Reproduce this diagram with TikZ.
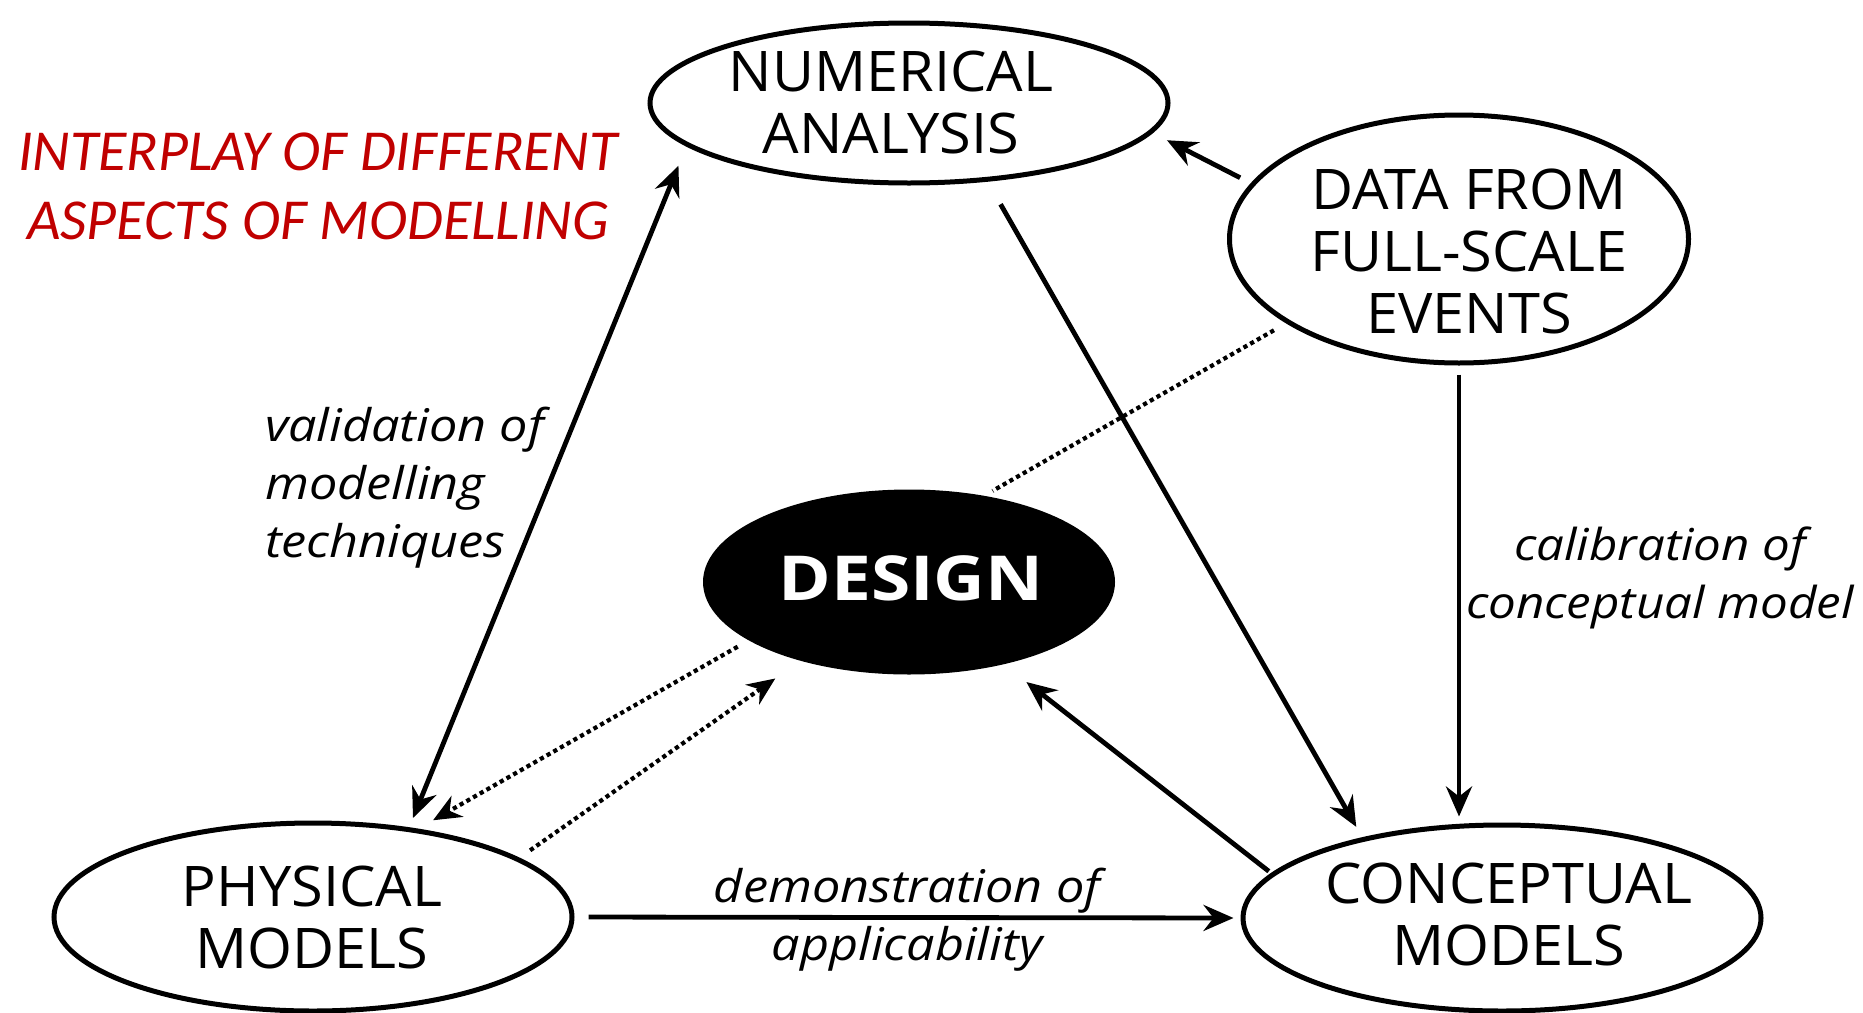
\documentclass[tikz,border=0pt]{standalone}
\usepackage{fontspec}
\setmainfont{Open Sans}
\newfontfamily\titlefont{Carlito}
\newfontfamily\nodefont[FakeStretch=1.03]{Open Sans}
\newfontfamily\desfont[FakeStretch=1.15]{Open Sans}
\newfontfamily\lblfont[FakeStretch=1.12]{Open Sans}
\usetikzlibrary{shapes.geometric,arrows.meta}
\definecolor{titlered}{HTML}{C00000}
\tikzset{
  ell/.style={ellipse, draw, line width=5pt, inner sep=0pt},
  txt/.style={align=center, inner sep=0pt, font=\nodefont\fontsize{56}{62}\selectfont},
  conn/.style={line width=4.8pt, -{Stealth[length=30pt,width=26pt,inset=10pt]}},
  biconn/.style={line width=4.8pt, {Stealth[length=30pt,width=26pt,inset=10pt]}-{Stealth[length=30pt,width=26pt,inset=10pt]}},
  dotline/.style={line width=4.2pt, dash pattern=on 4.2pt off 3.5pt},
  dotconn/.style={dotline, -{Stealth[length=28pt,width=24pt,inset=9pt]}},
  lbl/.style={inner sep=0pt, font=\lblfont\itshape\fontsize{45}{58}\selectfont}
}
\begin{document}
\begin{tikzpicture}[x=1pt,y=-1pt]
\useasboundingbox (0,0) rectangle (1863,1012);
% ellipses
\node[ell, minimum width=518pt, minimum height=160pt] (num) at (909,103) {};
\node[txt] (numt) at (891,102) {NUMERICAL\\ANALYSIS};
\node[ell, minimum width=459pt, minimum height=248pt] (data) at (1459,239) {};
\node[txt] (datat) at (1469,251) {DATA FROM\\FULL-SCALE\\EVENTS};
\node[ell, fill=black, minimum width=407pt, minimum height=180pt] (des) at (909,582) {};
\node[txt, text=white, font=\desfont\bfseries\fontsize{62}{62}\selectfont] (dest) at (911,578) {DESIGN};
\node[ell, minimum width=518pt, minimum height=188pt] (phys) at (313,917) {};
\node[txt] (physt) at (312,917) {PHYSICAL\\MODELS};
\node[ell, minimum width=518pt, minimum height=186pt] (conc) at (1502,918) {};
\node[txt] (conct) at (1509,914) {CONCEPTUAL\\MODELS};
% labels
\node[text=titlered, align=center, inner sep=0pt, font=\titlefont\itshape\fontsize{58}{69}\selectfont] (title) at (318,186) {INTERPLAY OF DIFFERENT\\ASPECTS OF MODELLING};
\node[lbl, anchor=west, align=left] (val) at (265,488) {validation of\\modelling\\techniques};
\node[lbl, align=center, font=\lblfont\itshape\fontsize{44}{58}\selectfont] (cal) at (1660,578) {calibration of\\conceptual model};
\node[lbl, align=center] (dem) at (907,920) {demonstration of\\applicability};
% connectors
\draw[biconn, shorten <=21pt, shorten >=10pt] (num.191) -- (phys.43);
\draw[conn, shorten <=26pt, shorten >=12pt] (num.315) -- (conc.150);
\draw[conn, shorten <=12pt, shorten >=16pt] (data.165) -- (num.353);
\draw[conn, shorten <=9pt, shorten >=6pt] (data.south) -- (data.south |- conc.north);
\draw[conn, shorten <=3pt, shorten >=29pt] (conc.169) -- (des.319);
\draw[conn, shorten <=14pt, shorten >=7pt] (phys.east) -- (conc.west);
\draw[dotline, shorten <=14pt, shorten >=10pt] (data.206) -- (des.49);
\draw[dotconn, shorten <=13pt, shorten >=17pt] (des.200) -- (phys.40);
\draw[dotconn, shorten <=13pt, shorten >=31pt] (phys.16) -- (des.216);
\end{tikzpicture}
\end{document}
